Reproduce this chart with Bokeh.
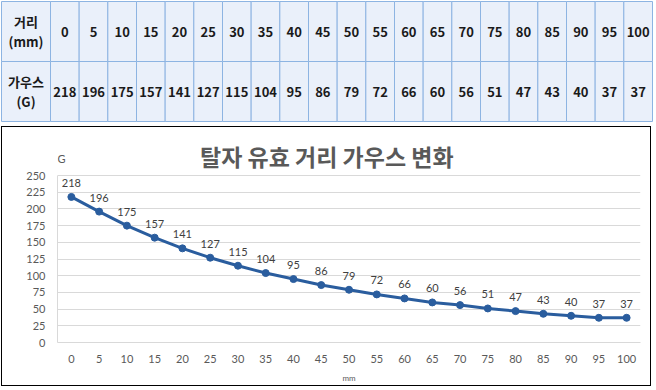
import numpy as np
from bokeh.plotting import figure
from bokeh.models import Range1d, FixedTicker, Label
from bokeh.layouts import column
from bokeh.core.properties import value
from bokeh.embed import file_html
from bokeh.resources import INLINE

# ---------------- data ----------------
distance_mm = [0, 5, 10, 15, 20, 25, 30, 35, 40, 45, 50, 55, 60, 65, 70, 75, 80, 85, 90, 95, 100]
gauss_G = [218, 196, 175, 157, 141, 127, 115, 104, 95, 86, 79, 72, 66, 60, 56, 51, 47, 43, 40, 37, 37]
y_ticks = [0, 25, 50, 75, 100, 125, 150, 175, 200, 225, 250]
row_headers = ["거리\n(mm)", "가우스\n(G)"]
title_text = "탈자 유효 거리 가우스 변화"
y_unit = "G"
x_unit = "mm"

KR_NAME = "Noto Sans CJK KR"
NUM_NAME = "Lato"
KR = value(KR_NAME)
NUMFONT = value(NUM_NAME)
GRAY = "#595959"

# ---------------- table ----------------
TW, TH = 654, 122
t = figure(width=TW, height=TH, x_range=Range1d(0, TW), y_range=Range1d(TH, 0),
           output_backend="svg", toolbar_location=None, min_border=0,
           x_axis_location=None, y_axis_location=None)
t.frame_align = False
t.grid.visible = False
t.outline_line_color = None
t.background_fill_color = "white"

n = len(distance_mm)
x0, first_w = 1.0, 49.0
col_w = (652.0 - x0 - first_w) / n
y0 = 1.0
row_h = (121.0 - y0) / 2.0

cx, cy, cw, ch, txt = [], [], [], [], []
rows = [[str(v) for v in distance_mm], [str(v) for v in gauss_G]]
for r in range(2):
    yc = y0 + row_h * (r + 0.5)
    cx.append(x0 + first_w / 2); cy.append(yc); cw.append(first_w); ch.append(row_h); txt.append(row_headers[r])
    for i in range(n):
        cx.append(x0 + first_w + col_w * (i + 0.5)); cy.append(yc); cw.append(col_w); ch.append(row_h)
        txt.append(rows[r][i])

t.rect(x=cx, y=cy, width=cw, height=ch, fill_color="#EAF0FA", line_color="#8DB4E2", line_width=1)
t.text(x=cx, y=cy, text=txt, text_align="center", text_baseline="middle",
       text_font=KR, text_font_size="13px", text_font_style="bold", text_color="#1a1a1a",
       text_line_height=1.1)

# ---------------- chart ----------------
Y_TOP = 307  # frame extends above the 250 gridline to hold title and unit label
c = figure(width=650, height=260, x_range=Range1d(-2.5, 102.5), y_range=Range1d(0, Y_TOP),
           output_backend="svg", toolbar_location=None,
           min_border_left=55, min_border_right=12, min_border_top=10, min_border_bottom=45,
           styles={"border": "1px solid black", "margin-left": "1px"})
c.frame_align = False
c.outline_line_color = None
c.xgrid.visible = False
c.ygrid.grid_line_color = "#D9D9D9"
c.ygrid.grid_line_width = 1

c.yaxis.ticker = FixedTicker(ticks=y_ticks)
c.yaxis.bounds = (0, 250)
c.xaxis.ticker = FixedTicker(ticks=distance_mm)
for ax in (c.xaxis[0], c.yaxis[0]):
    ax.axis_line_color = "#D9D9D9"
    ax.major_tick_line_color = None
    ax.minor_tick_line_color = None
    ax.major_label_text_font = NUM_NAME
    ax.major_label_text_font_size = "11px"
    ax.major_label_text_color = GRAY
    ax.major_label_standoff = 6

c.xaxis.axis_label = x_unit
c.xaxis.axis_label_text_font = NUM_NAME
c.xaxis.axis_label_text_font_size = "8px"
c.xaxis.axis_label_text_font_style = "normal"
c.xaxis.axis_label_text_color = GRAY
c.xaxis.axis_label_standoff = 7

c.line(distance_mm, gauss_G, line_color="#2A5D9E", line_width=3)
c.scatter(distance_mm, gauss_G, size=7, fill_color="#2A5D9E", line_color="#2A5D9E")
c.text(x=distance_mm, y=gauss_G, text=[str(v) for v in gauss_G], y_offset=-10,
       text_align="center", text_baseline="bottom", text_font=NUMFONT,
       text_font_size="11px", text_color="#404040")

# chart title and unit label (drawn inside the extended frame)
c.add_layout(Label(x=46, y=280, text=title_text, text_align="center", text_baseline="middle",
                   text_font=KR_NAME, text_font_size="23px", text_font_style="bold",
                   text_color=GRAY))
c.add_layout(Label(x=-2.5, y=275, text=y_unit, x_offset=0,
                   text_align="left", text_baseline="middle", text_font=NUM_NAME,
                   text_font_size="11px", text_color=GRAY))

layout = column(t, c, spacing=4)
open("out.html", "w").write(file_html(layout, INLINE))
